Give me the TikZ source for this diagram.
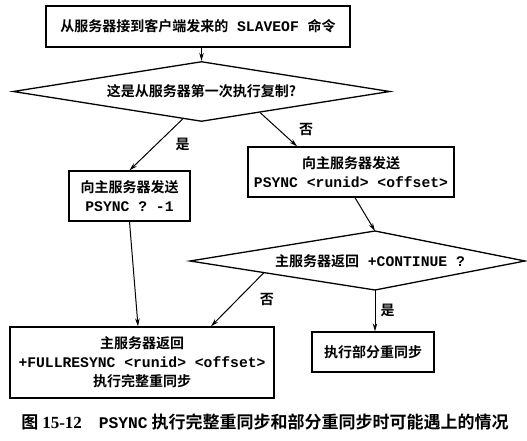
\documentclass[tikz,border=0pt]{standalone}
\usepackage{fontspec}
\setmainfont{Noto Sans CJK SC}[BoldFont={Noto Sans CJK SC Bold}]
\setmonofont{Liberation Mono}[Scale=1.05]
\newfontfamily\capserif{Liberation Serif}
\usetikzlibrary{positioning,shapes.geometric,arrows.meta,calc}
\tikzset{
    box/.style={draw, line width=1.3pt, inner sep=2pt, align=center,
      font=\fontsize{14}{19}\selectfont\bfseries}}
\tikzset{
    decision/.style={draw, diamond, aspect=6, line width=1.3pt, inner sep=2pt,
      minimum width=377pt, minimum height=60pt, font=\fontsize{14}{19}\selectfont\bfseries}}
\tikzset{
    flow/.style={-{Stealth[length=8pt,width=4.5pt]}, line width=1pt},
    lbl/.style={inner sep=0pt, font=\fontsize{14}{16}\selectfont\bfseries}}

\begin{document}
\begin{tikzpicture}[x=1pt, y=-1pt]
      \useasboundingbox (0,0) rectangle (527,441);
      \node[box, minimum width=304pt, minimum height=41pt] (cmd) at (198,26.5) {从服务器接到客户端发来的\texttt{ SLAVEOF }命令};
      \node[decision] (first) at (201.5,91.5) {这是从服务器第一次执行复制?};
      \node[box, minimum width=121pt, minimum height=50pt] (ask) at (129.5,196) {向主服务器发送\\\texttt{PSYNC ? -1}};
      \node[box, minimum width=206pt, minimum height=50pt] (psync) at (351,172) {向主服务器发送\\\texttt{PSYNC <runid> <offset>}};
      \coordinate (ct) at (375,231);
      \coordinate (cr) at (525,261);
      \coordinate (cb) at (375,290);
      \coordinate (cl) at (190,261);
      \draw[line width=1.3pt] (cl) -- (ct) -- (cr) -- (cb) -- cycle;
      \node[lbl] (cont) at (370,261) {主服务器返回\texttt{ +CONTINUE ?}};
      \node[box, minimum width=264pt, minimum height=71pt] (full) at (142,362.5) {主服务器返回\\\texttt{+FULLRESYNC <runid> <offset>}\\执行完整重同步};
      \node[box, minimum width=122pt, minimum height=40pt] (part) at (373,352) {执行部分重同步};
      \node[font=\fontsize{17}{20}\selectfont\bfseries] (cap) at (265,422) {图 {\capserif 15-12}\quad {\fontsize{15.5}{18}\selectfont\ttfamily PSYNC} 执行完整重同步和部分重同步时可能遇上的情况};

      \draw[flow] (first.north |- cmd.south) -- (first.north);
      \draw[flow] ($(first.south)!0.1!(first.west)$) -- node[lbl, right=19pt] {是} (ask.north);
      \draw[flow] ($(first.south)!0.31!(first.east)$) -- node[lbl, right=20pt] {否} ($(psync.north west)!0.24!(psync.north east)$);
      \draw[flow] ($(psync.south)+(4,0)$) -- (ct);
      \draw[flow] (ask.south) -- ($(full.north west)!0.485!(full.north east)$);
      \draw[flow] ($(cb)!0.6!(cl)$) -- node[lbl, right=22pt] {否} ($(full.north west)!0.76!(full.north east)$);
      \draw[flow] (cb) -- node[lbl, right=5pt] {是} (cb |- part.north);
\end{tikzpicture}
\end{document}
